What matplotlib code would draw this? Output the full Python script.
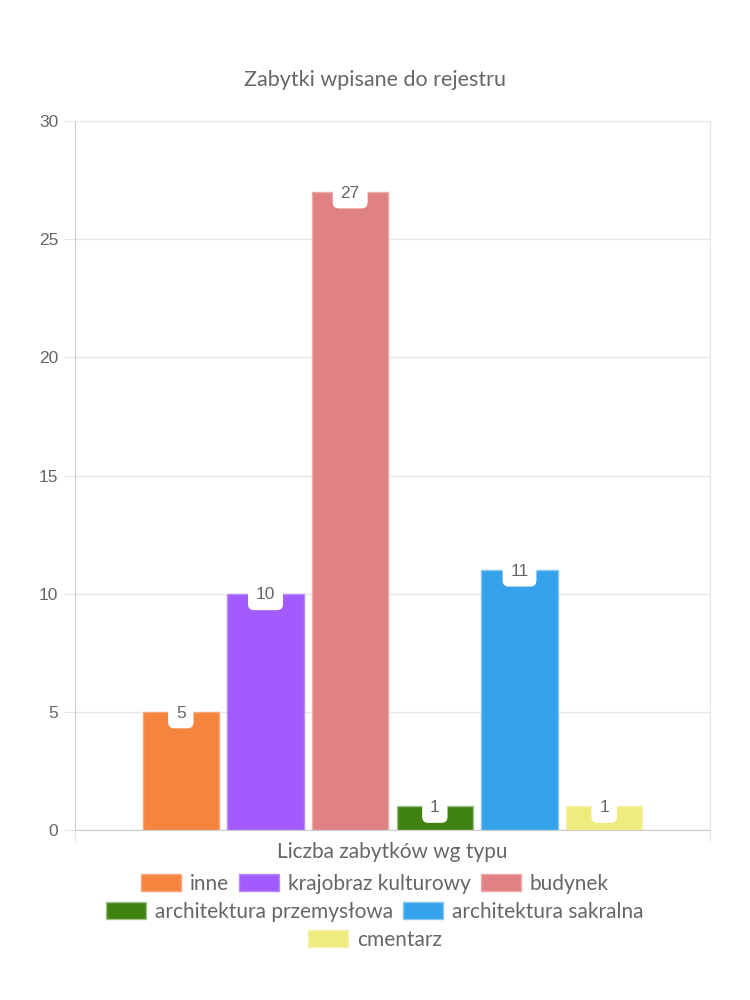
import matplotlib
matplotlib.use("Agg")
import matplotlib.pyplot as plt
from matplotlib.patches import Patch

title = "Zabytki wpisane do rejestru"
xlabel = "Liczba zabytków wg typu"
categories = ["inne", "krajobraz kulturowy", "budynek",
              "architektura przemysłowa", "architektura sakralna", "cmentarz"]
values = [5, 10, 27, 1, 11, 1]
colors = ["#F5843F", "#A25BFC", "#E08283", "#3F820F", "#36A2EB", "#F0EB7E"]
edge_colors = ["#F7A77A", "#B98AFB", "#EBA9AA", "#9FC28B", "#88C6F2", "#F5F1AE"]
yticks = [0, 5, 10, 15, 20, 25, 30]

FONT = ["Lato", "DejaVu Sans"]
TXT = "#666666"
GRID = "#e6e6e6"

plt.rcParams['font.family'] = FONT

fig = plt.figure(figsize=(7.5, 10), dpi=100)
ax = fig.add_axes([75/750, 170/1000, 635/750, 709/1000])

xs = list(range(len(values)))
for x, v, c, ec, lab in zip(xs, values, colors, edge_colors, categories):
    ax.bar(x, v, width=0.9, color=c, edgecolor=ec, linewidth=1, label=lab, zorder=2)
    ax.text(x, v - 0.05, str(v), ha='center', va='center', fontsize=12.5, color=TXT,
            family=["Liberation Sans", "DejaVu Sans"], zorder=4,
            bbox=dict(boxstyle="round,pad=0.45,rounding_size=0.35", fc="white", ec="none"))

ax.set_xlim(-1.25, 6.25)
ax.set_ylim(0, 30)
ax.set_yticks(yticks)
ax.set_yticklabels([str(t) for t in yticks], fontsize=12.5, color=TXT,
                   family=["Liberation Sans", "DejaVu Sans"])
ax.set_xticks([-1.25, 6.25])
ax.set_xticklabels(["", ""])
ax.tick_params(axis='y', length=8, color=GRID, pad=4)
ax.tick_params(axis='x', length=8, color=GRID, direction='out')
ax.grid(axis='y', color=GRID, linewidth=1, zorder=0)
ax.set_axisbelow(True)
ax.spines['left'].set_color("#cccccc")
ax.spines['bottom'].set_color("#cccccc")
ax.spines['right'].set_color(GRID)
ax.spines['top'].set_color(GRID)

fig.text(0.5, 1 - 80/1000, title, ha='center', va='center', fontsize=15.5, color=TXT)
fig.text(392/750, 1 - 852/1000, xlabel, ha='center', va='center', fontsize=15, color=TXT)

rows = [[0, 1, 2], [3, 4], [5]]
row_y = [884, 912, 940]
fs = 15
em = fs * 100 / 72
for r, yy in zip(rows, row_y):
    handles = [Patch(facecolor=colors[i], edgecolor=edge_colors[i], label=categories[i]) for i in r]
    leg = fig.legend(handles=handles, loc='center', bbox_to_anchor=(0.5, 1 - yy/1000),
                     ncol=len(r), frameon=False, fontsize=fs, handlelength=40/em,
                     handleheight=18/em, handletextpad=9/em, columnspacing=10/em,
                     borderpad=0, borderaxespad=0)
    for t in leg.get_texts():
        t.set_color(TXT)

fig.savefig("out.png", dpi=100)
